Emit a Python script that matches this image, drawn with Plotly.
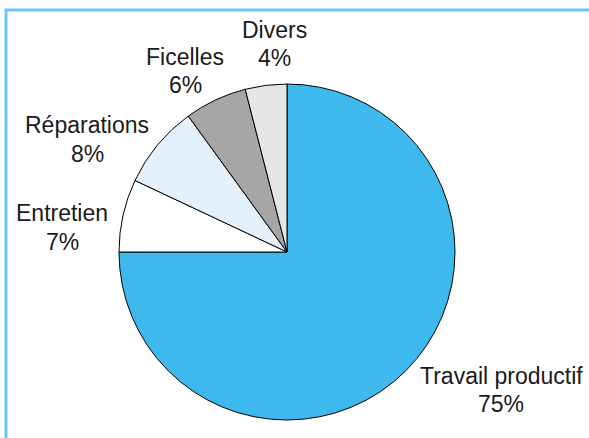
import plotly.graph_objects as go

labels = ["Travail productif", "Entretien", "Réparations", "Ficelles", "Divers"]
values = [75, 7, 8, 6, 4]
colors = ["#3DB9EE", "#FFFFFF", "#E4F1FB", "#A6A6A6", "#E6E6E6"]

W, H = 589, 438
# label anchor positions (pixels): name line center, percent line center
label_pos = {
    "Travail productif": (501, 376, 404),
    "Entretien": (62, 213, 242),
    "Réparations": (87, 125, 154),
    "Ficelles": (185, 57, 85),
    "Divers": (274, 30, 58),
}

cx, cy, r = 287, 252, 168

fig = go.Figure(go.Pie(
    labels=labels, values=values, sort=False, direction="clockwise", rotation=0,
    marker=dict(colors=colors, line=dict(color="#000000", width=1)),
    textinfo="none", hoverinfo="label+percent", showlegend=False,
    domain=dict(x=[(cx - r) / W, (cx + r) / W], y=[(H - cy - r) / H, (H - cy + r) / H]),
))

annotations = []
for lab, val in zip(labels, values):
    x, y1, y2 = label_pos[lab]
    for txt, yy in ((lab, y1), (f"{val}%", y2)):
        annotations.append(dict(
            x=x / W, y=1 - yy / H, xref="paper", yref="paper", text=txt,
            showarrow=False, xanchor="center", yanchor="middle",
            font=dict(family="Liberation Sans, Arial, sans-serif", size=23, color="#1a1a1a"),
        ))

fig.update_layout(
    width=W, height=H, margin=dict(l=0, r=0, t=0, b=0),
    paper_bgcolor="white", plot_bgcolor="white",
    annotations=annotations,
    shapes=[dict(type="rect", xref="paper", yref="paper",
                 x0=6 / W, x1=1.05, y0=-0.05, y1=1 - 10 / H,
                 line=dict(color="#6CC8F0", width=3), fillcolor="rgba(0,0,0,0)", layer="below")],
)

fig.write_html("out.html")
